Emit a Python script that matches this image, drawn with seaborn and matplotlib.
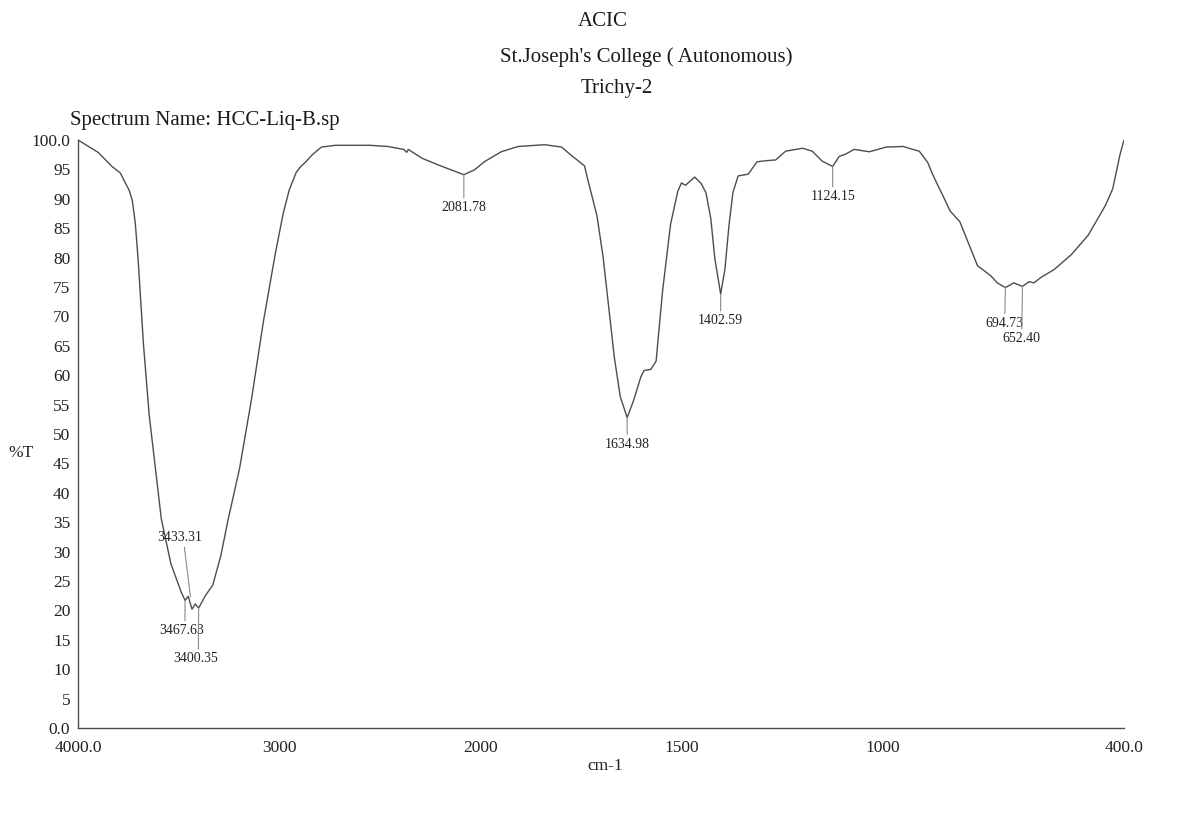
import numpy as np
import pandas as pd
import matplotlib
matplotlib.use("Agg")
import matplotlib.pyplot as plt
import seaborn as sns

# IR spectrum of HCC-Liq-B (wavenumber in cm-1, transmittance in %T)
wavenumber = [
    4000, 3900, 3831, 3790, 3763, 3745, 3730, 3715, 3701, 3674, 3646, 3616,
    3586, 3538, 3488, 3467.63, 3452, 3433.31, 3417, 3400.35, 3367, 3330, 3290,
    3254, 3197, 3138, 3078, 3020, 2980, 2950, 2915, 2895, 2870, 2835, 2790,
    2720, 2550, 2460, 2380, 2366, 2358, 2290, 2205, 2120, 2081.78, 2030, 1990,
    1948, 1906, 1840, 1798, 1774, 1741, 1733, 1710, 1695, 1681, 1667, 1652,
    1634.98, 1619, 1601, 1593, 1576, 1563, 1547, 1527, 1509, 1500, 1490, 1467,
    1451, 1439, 1427, 1417, 1402.59, 1392, 1382, 1372, 1359, 1350, 1334, 1312,
    1287, 1266, 1241, 1199, 1175, 1150, 1124.15, 1108, 1092, 1071, 1033, 991,
    949, 925, 909, 900, 888, 876, 860, 852, 832, 820, 808, 784, 764, 752, 731,
    715, 694.73, 674, 652.40, 636, 624, 607, 573, 531, 489, 446, 428, 410, 400,
]
transmittance = [
    100.0, 97.9, 95.5, 94.4, 92.6, 91.4, 89.7, 85.8, 79.6, 65.0, 53.2, 44.4,
    35.6, 27.9, 23.2, 21.7, 22.4, 20.2, 21.1, 20.4, 22.5, 24.3, 29.3,
    35.4, 44.1, 55.8, 69.2, 80.5, 87.5, 91.5, 94.5, 95.4, 96.2, 97.5, 98.8,
    99.1, 99.1, 98.9, 98.4, 97.9, 98.4, 96.9, 95.7, 94.6, 94.1, 94.9, 96.3,
    98.0, 98.9, 99.2, 98.8, 97.4, 95.6, 93.3, 87.1, 80.2, 71.7, 63.1, 56.3,
    52.8, 55.7, 59.7, 60.8, 61.0, 62.4, 74.3, 85.7, 91.3, 92.7, 92.3, 93.7,
    92.6, 91.0, 86.6, 79.8, 73.8, 78.0, 85.4, 91.1, 93.9, 94.0, 94.2, 96.3,
    96.5, 96.6, 98.1, 98.6, 98.1, 96.4, 95.5, 97.2, 97.6, 98.4, 98.0, 98.8,
    98.9, 98.4, 98.1, 97.3, 96.2, 94.2, 91.9, 90.8, 87.9, 87.0, 86.1, 82.0,
    78.6, 78.0, 76.9, 75.7, 74.9, 75.7, 75.1, 75.9, 75.7, 76.6, 78.0, 80.5,
    83.8, 88.9, 91.7, 97.5, 100.0,
]

# Peak picks
peak_wavenumbers = [3467.63, 3433.31, 3400.35, 2081.78, 1634.98, 1402.59,
                    1124.15, 694.73, 652.40]
peak_labels = ["3467.63", "3433.31", "3400.35", "2081.78", "1634.98",
               "1402.59", "1124.15", "694.73", "652.40"]

x_ticks = [4000, 3000, 2000, 1500, 1000, 500, 400]
x_tick_labels = ["4000.0", "3000", "2000", "1500", "1000", "", "400.0"]
y_ticks = list(range(0, 101, 5))
y_tick_labels = ["0.0"] + [str(v) for v in range(5, 100, 5)] + ["100.0"]

spectrum = pd.DataFrame({"wavenumber": wavenumber, "T": transmittance})

sns.set_theme(style="white")
plt.rcParams["font.family"] = ["Liberation Serif", "DejaVu Serif"]

W, H = 1198, 816
fig = plt.figure(figsize=(W / 100, H / 100), dpi=100)
fig.patch.set_facecolor("white")

# axes box in pixel units: x from 78 to 1124, y=0 at 728, 100 %T spans 588 px
ax = fig.add_axes([78 / W, 88 / H, 1046 / W, (588 * 1.04) / H])
ax.set_facecolor("white")

sns.lineplot(data=spectrum, x="wavenumber", y="T", sort=False, estimator=None,
             color="#4d4d4d", linewidth=1.0, ax=ax)


# split abscissa: 2x expansion below 2000 cm-1
def fwd(x):
    x = np.asarray(x, dtype=float)
    return np.where(x >= 2000, (x - 2000) / 1000.0, (x - 2000) / 500.0)


def inv(u):
    u = np.asarray(u, dtype=float)
    return np.where(u >= 0, 2000 + 1000.0 * u, 2000 + 500.0 * u)


ax.set_xscale("function", functions=(fwd, inv))
ax.set_xlim(4000, 400)
ax.set_ylim(0, 104)

ax.set_xticks(x_ticks)
ax.set_xticklabels(x_tick_labels)
ax.set_yticks(y_ticks)
ax.set_yticklabels(y_tick_labels)
ax.minorticks_off()
ax.tick_params(axis="x", direction="out", length=3.5, width=0.8, pad=5.5,
               labelsize=12.5, colors="#222222")
ax.tick_params(axis="y", direction="out", length=3, width=0.8, pad=2.5,
               labelsize=12.5, colors="#222222")
ax.tick_params(axis="both", color="#555555")
ax.set_xlabel("")
ax.set_ylabel("")
ax.grid(False)

for side in ["top", "right"]:
    ax.spines[side].set_visible(False)
for side in ["left", "bottom"]:
    ax.spines[side].set_color("#4d4d4d")
    ax.spines[side].set_linewidth(1.0)
ax.spines["left"].set_bounds(0, 100)

# peak labels with leader lines: (dx, dy) in points, vertical alignment, relpos, gap at peak
label_style = {
    "3467.63": ((-2.4, -17), "top", (0.57, 1.0), 0),
    "3433.31": ((-9, 47), "bottom", (0.6, 0.0), 9),
    "3400.35": ((-2.4, -32), "top", (0.57, 1.0), 0),
    "2081.78": ((0, -19), "top", (0.5, 1.0), 0),
    "1634.98": ((0, -14.5), "top", (0.5, 1.0), 0),
    "1402.59": ((0, -14.5), "top", (0.5, 1.0), 0),
    "1124.15": ((0, -17), "top", (0.5, 1.0), 0),
    "694.73": ((-1, -21), "top", (0.52, 1.0), 0),
    "652.40": ((-1, -33), "top", (0.52, 1.0), 0),
}
t_at = dict(zip(wavenumber, transmittance))
for wn, lab in zip(peak_wavenumbers, peak_labels):
    (dx, dy), va, rel, gap = label_style[lab]
    ax.annotate(lab, xy=(wn, t_at[wn]), xytext=(dx, dy),
                textcoords="offset points", ha="center", va=va,
                fontsize=10, color="#222222",
                arrowprops=dict(arrowstyle="-", color="#8a8a8a", lw=0.8,
                                shrinkA=0, shrinkB=gap, relpos=rel))

# header and axis captions
def ftext(px, py, s, **kw):
    fig.text(px / W, 1 - py / H, s, **kw)

ftext(603, 21, "ACIC", ha="center", va="center", fontsize=15, color="#1a1a1a")
ftext(646, 57, "St.Joseph's College ( Autonomous)", ha="center", va="center",
      fontsize=15, color="#1a1a1a")
ftext(617, 88, "Trichy-2", ha="center", va="center", fontsize=15, color="#1a1a1a")
ftext(70, 121, "Spectrum Name: HCC-Liq-B.sp", ha="left", va="center",
      fontsize=15, color="#1a1a1a")
ftext(21, 453, "%T", ha="center", va="center", fontsize=12.5, color="#222222")
ftext(605, 766, "cm-1", ha="center", va="center", fontsize=12.5, color="#222222")

fig.savefig("out.png", dpi=100, facecolor="white")
